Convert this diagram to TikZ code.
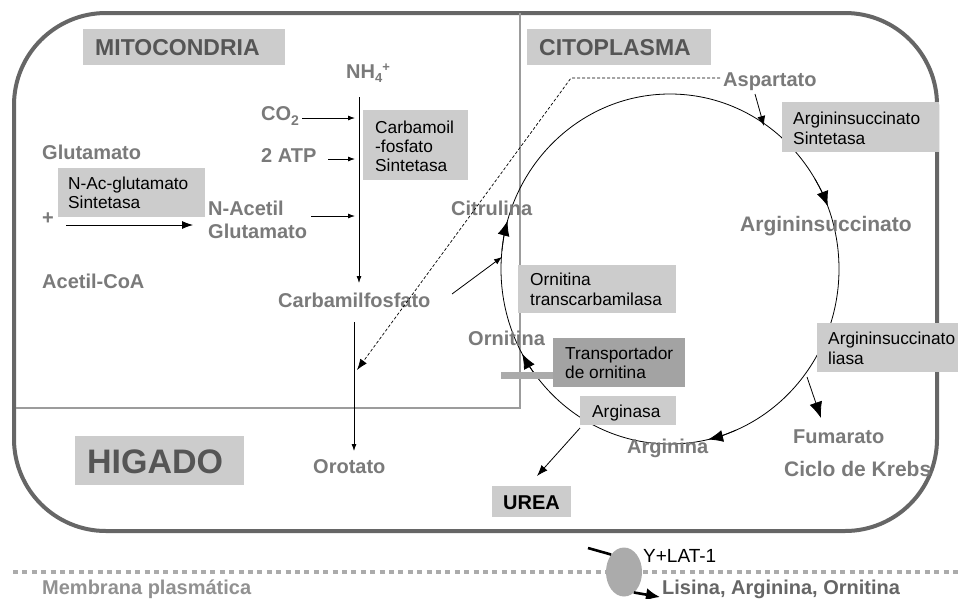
\documentclass[tikz,border=0pt]{standalone}
\usepackage{fontspec}
\setmainfont{Liberation Sans}
\usetikzlibrary{arrows.meta,shapes.geometric}
\definecolor{lblgray}{HTML}{7A7A7A}
\definecolor{boxgray}{HTML}{CCCCCC}
\definecolor{darkbox}{HTML}{A3A3A3}
\definecolor{bordergray}{HTML}{666666}
\definecolor{mitogray}{HTML}{9C9C9C}
\definecolor{memgray}{HTML}{ABABAB}
\definecolor{titlegray}{HTML}{555555}
\begin{document}
\begin{tikzpicture}[x=1pt,y=-1pt,
  box/.style={fill=boxgray, draw=none, anchor=north west, inner sep=0},
  lbl/.style={anchor=base west, inner sep=0, text=lblgray, font=\fontsize{20}{23}\selectfont\bfseries},
  lblbig/.style={lbl, font=\fontsize{21}{24}\selectfont\bfseries},
  btxt/.style={anchor=base west, inner sep=0, font=\fontsize{17.3}{19}\selectfont},
  title/.style={anchor=base west, inner sep=0, text=titlegray, font=\fontsize{23}{25}\selectfont\bfseries},
  smallarr/.style={-{Latex[length=7,width=5]}, line width=0.8},
  midarr/.style={-{Latex[length=11,width=8]}, line width=0.8},
  bigarr/.style={-{Latex[length=16,width=13]}, line width=0.8},
  circarr/.style={-{Latex[length=15,width=12]}, line width=0.8}
]
\useasboundingbox (0,0) rectangle (958,598);
\clip (0,0) rectangle (958,598);
\fill[white] (0,0) rectangle (958,598);

% outer cell
\draw[bordergray, line width=4, rounded corners=92] (14,13) rectangle (937,531);
% mitochondria border
\draw[mitogray, line width=2.2] (520,13) -- (520,408) -- (16,408);

% urea cycle circle
\coordinate (cc) at (670,269);
\draw[line width=0.8] (cc) ellipse [x radius=169, y radius=175];
\draw[circarr] ([shift={(-31:169 and 175)}]cc) arc[start angle=-31, end angle=-21, x radius=169, y radius=175];
\draw[circarr] ([shift={(67:169 and 175)}]cc) arc[start angle=67, end angle=77, x radius=169, y radius=175];
\draw[circarr] ([shift={(141:169 and 175)}]cc) arc[start angle=141, end angle=151, x radius=169, y radius=175];
\draw[circarr] ([shift={(186:169 and 175)}]cc) arc[start angle=186, end angle=196, x radius=169, y radius=175];

% boxes
\node[box, minimum width=202, minimum height=36] (mitobox) at (83,29) {};
\node[box, minimum width=184, minimum height=36] (citobox) at (527,29) {};
\node[box, minimum width=105, minimum height=70] (cpsbox) at (363,110) {};
\node[box, minimum width=147, minimum height=49] (nagsbox) at (58,168) {};
\node[box, minimum width=157, minimum height=50] (assbox) at (782,102) {};
\node[box, minimum width=158, minimum height=48] (otcbox) at (518,265) {};
\node[box, fill=darkbox, minimum width=132, minimum height=49] (trbox) at (553,338) {};
\node[box, fill=memgray, minimum width=52, minimum height=7] (trbar) at (501,372) {};
\node[box, minimum width=96, minimum height=29] (argbox) at (580,396) {};
\node[box, minimum width=160, minimum height=49] (aslbox) at (817,323) {};
\node[box, minimum width=169, minimum height=49] (higbox) at (75,436) {};
\node[box, minimum width=79, minimum height=31] (ureabox) at (492,486) {};

% box texts
\node[title] (mito) at (95,55) {MITOCONDRIA};
\node[title] (cito) at (539,55) {CITOPLASMA};
\node[anchor=base west, inner sep=0, text=titlegray, font=\fontsize{34}{36}\selectfont\bfseries] (hig) at (87,473) {HIGADO};
\node[btxt] (cps1) at (375,133) {Carbamoil};
\node[btxt] (cps2) at (375,152) {-fosfato};
\node[btxt] (cps3) at (375,171) {Sintetasa};
\node[btxt] (nags1) at (68,189) {N-Ac-glutamato};
\node[btxt] (nags2) at (68,208) {Sintetasa};
\node[btxt] (ass1) at (793,124) {Argininsuccinato};
\node[btxt] (ass2) at (793,144) {Sintetasa};
\node[btxt] (otc1) at (530,285) {Ornitina};
\node[btxt] (otc2) at (530,305) {transcarbamilasa};
\node[btxt] (tr1) at (565,359) {Transportador};
\node[btxt] (tr2) at (565,378) {de ornitina};
\node[btxt] (arg) at (592,417) {Arginasa};
\node[btxt] (asl1) at (828,344) {Argininsuccinato};
\node[btxt] (asl2) at (828,364) {liasa};
\node[anchor=base west, inner sep=0, font=\fontsize{20}{23}\selectfont\bfseries] (urea) at (503,509) {UREA};

% gray labels
\node[lbl] (nh4) at (346,78) {NH\raisebox{-4pt}{\fontsize{13}{13}\selectfont 4}\raisebox{7pt}{\fontsize{13}{13}\selectfont +}};
\node[lbl] (co2) at (261,120) {CO\raisebox{-5pt}{\fontsize{14}{14}\selectfont 2}};
\node[lbl] (atp) at (261,162) {2 ATP};
\node[lbl] (glu) at (42,159) {Glutamato};
\node[lbl] (plus) at (42,224) {+};
\node[lbl] (nac1) at (208,215) {N-Acetil};
\node[lbl] (nac2) at (208,238) {Glutamato};
\node[lbl] (acoa) at (42,288) {Acetil-CoA};
\node[lbl] (cp) at (278,307) {Carbamilfosfato};
\node[lbl] (oro) at (313,473) {Orotato};
\node[lbl] (asp) at (723,86) {Aspartato};
\node[lblbig] (as) at (740,231) {Argininsuccinato};
\node[lbl] (cit) at (451,215) {Citrulina};
\node[lbl] (orn) at (468,345) {Ornitina};
\node[lbl] (argn) at (627,453) {Arginina};
\node[lbl] (fum) at (793,443) {Fumarato};
\node[lblbig] (krebs) at (784,476) {Ciclo de Krebs};

% mitochondrial arrows
\coordinate (co2a) at (302,118);  \coordinate (co2b) at (355,118);
\coordinate (atpa) at (328,159);  \coordinate (atpb) at (355,159);
\coordinate (naca) at (311,216);  \coordinate (nacb) at (355,216);
\coordinate (v1a) at (359,97);    \coordinate (v1b) at (359,283);
\coordinate (nagsa) at (66,225);  \coordinate (nagsb) at (193,225);
\coordinate (v2a) at (354,322);   \coordinate (v2b) at (354,451);
\draw[smallarr] (co2a) -- (co2b);
\draw[smallarr] (atpa) -- (atpb);
\draw[smallarr] (naca) -- (nacb);
\draw[smallarr] (v1a) -- (v1b);
\draw[-{Latex[length=11,width=8]}, line width=0.8] (nagsa) -- (nagsb);
\draw[smallarr] (v2a) -- (v2b);

% dashed aspartate path
\coordinate (dasha) at (720,78);
\coordinate (dashc) at (571,78);
\coordinate (dashb) at (357,370);
\draw[dash pattern=on 3 off 2, line width=0.7, -{Latex[length=11,width=8]}] (dasha) -- (dashc) -- (dashb);

% other arrows
\coordinate (aspa) at (755,94);   \coordinate (aspb) at (764,126);
\draw[-{Latex[length=10,width=8]}, line width=0.8] (aspa) -- (aspb);
\coordinate (cpa) at (452,294);   \coordinate (cpb) at (502,257);
\draw[-{Latex[length=8,width=6]}, line width=0.8] (cpa) -- (cpb);
\coordinate (fuma) at (807,377);  \coordinate (fumb) at (821,418);
\draw[bigarr] (fuma) -- (fumb);
\coordinate (ura) at (580,428);   \coordinate (urb) at (537,476);
\draw[midarr] (ura) -- (urb);

% plasma membrane
\draw[memgray, line width=4, dash pattern=on 5 off 4.4] (13,572) -- (958,572);
\node[anchor=base west, inner sep=0, text=memgray!85!black, font=\fontsize{20}{23}\selectfont\bfseries] (memb) at (42,594) {Membrana plasmática};
\node[ellipse, fill=memgray, minimum width=36, minimum height=49, inner sep=0] (ylat) at (624,572) {};
\coordinate (ina) at (588,548);
\draw[line width=2.6] (ina) -- (ylat.north west);
\coordinate (outb) at (660,597);
\draw[line width=2.6, -{Latex[length=14,width=13]}] ([shift={(-3,3)}]ylat.south east) -- (outb);
\node[anchor=base west, inner sep=0, font=\fontsize{19}{21}\selectfont] (ylatl) at (643,562) {Y+LAT-1};
\node[anchor=base west, inner sep=0, text=bordergray, font=\fontsize{20}{23}\selectfont\bfseries] (lis) at (662,594) {Lisina, Arginina, Ornitina};
\end{tikzpicture}
\end{document}
